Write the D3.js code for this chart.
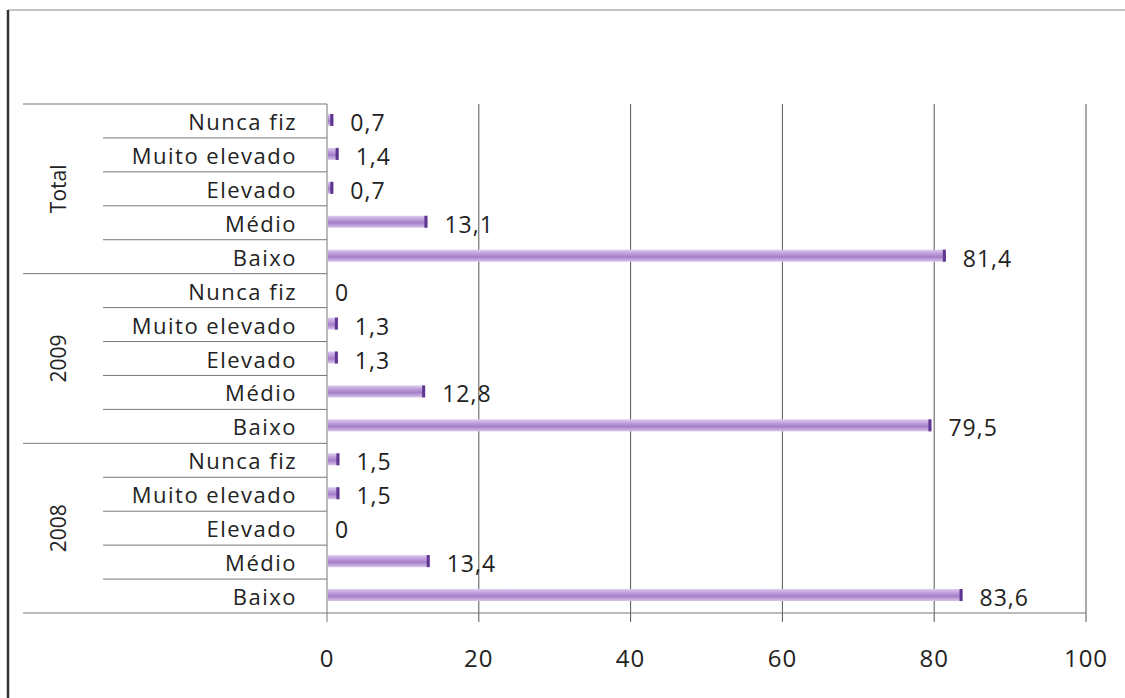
<!DOCTYPE html>
<html>
<head>
<meta charset="utf-8">
<script src="https://cdn.jsdelivr.net/npm/d3@7"></script>
<style>
  html, body { margin: 0; padding: 0; background: #fff; }
  svg { display: block; }
</style>
</head>
<body>
<svg id="chart" width="1125" height="698"></svg>
<script>
// ---- data ----
const groups = ["2008", "2009", "Total"];               // bottom to top
const categories = ["Baixo", "Médio", "Elevado", "Muito elevado", "Nunca fiz"]; // bottom to top within group
const values2008 = [83.6, 13.4, 0, 1.5, 1.5];
const values2009 = [79.5, 12.8, 1.3, 1.3, 0];
const valuesTotal = [81.4, 13.1, 0.7, 1.4, 0.7];
const xTicks = [0, 20, 40, 60, 80, 100];

const seriesByGroup = { "2008": values2008, "2009": values2009, "Total": valuesTotal };

// rows, top to bottom
const rows = [];
groups.slice().reverse().forEach(g => {
  categories.slice().reverse().forEach(c => {
    const i = categories.indexOf(c);
    rows.push({ group: g, cat: c, value: seriesByGroup[g][i], key: g + "|" + c });
  });
});

const svg = d3.select("#chart");
const fontFam = "'Open Sans', Lato, sans-serif";
const textCol = "#222";

const plotTop = 104, plotBottom = 613;
const x = d3.scaleLinear().domain([0, 100]).range([327, 1086]);
const y = d3.scaleBand().domain(rows.map(r => r.key)).range([plotTop, plotBottom]).padding(0);

// gradient
const defs = svg.append("defs");
const grad = defs.append("linearGradient").attr("id", "barGrad")
  .attr("x1", 0).attr("y1", 0).attr("x2", 0).attr("y2", 1);
grad.append("stop").attr("offset", "0%").attr("stop-color", "#dccbee");
grad.append("stop").attr("offset", "30%").attr("stop-color", "#c0a0dd");
grad.append("stop").attr("offset", "60%").attr("stop-color", "#a47ec7");
grad.append("stop").attr("offset", "100%").attr("stop-color", "#d8c6ec");

// outer frame
svg.append("line").attr("x1", 8).attr("x2", 1125).attr("y1", 10).attr("y2", 10)
  .attr("stroke", "#888").attr("stroke-width", 1);
svg.append("line").attr("x1", 8).attr("x2", 8).attr("y1", 10).attr("y2", 698)
  .attr("stroke", "#333").attr("stroke-width", 2.5);

// vertical gridlines
svg.append("g").selectAll("line").data(xTicks.filter(t => t > 0)).join("line")
  .attr("x1", d => x(d)).attr("x2", d => x(d))
  .attr("y1", plotTop).attr("y2", plotBottom + 9)
  .attr("stroke", "#555").attr("stroke-width", 1);

// category axis line
svg.append("line").attr("x1", x(0)).attr("x2", x(0))
  .attr("y1", plotTop).attr("y2", plotBottom + 9)
  .attr("stroke", "#777").attr("stroke-width", 1);

// row separators
const bw = y.bandwidth();
rows.forEach((r, i) => {
  const yy = y(r.key);
  const isGroupTop = (i % 5 === 0);
  svg.append("line")
    .attr("x1", isGroupTop ? 23 : 103).attr("x2", x(0))
    .attr("y1", yy).attr("y2", yy)
    .attr("stroke", "#777").attr("stroke-width", 1);
});
// bottom axis line
svg.append("line").attr("x1", 23).attr("x2", x(100))
  .attr("y1", plotBottom).attr("y2", plotBottom)
  .attr("stroke", "#777").attr("stroke-width", 1);

// bars
const barH = 12;
const bars = svg.append("g");
bars.selectAll("rect.bar").data(rows).join("rect").attr("class", "bar")
  .attr("x", x(0) + 1)
  .attr("y", d => y(d.key) + bw / 2 - barH / 2 - 1)
  .attr("width", d => Math.max(0, x(d.value) - x(0)))
  .attr("height", barH)
  .attr("fill", "url(#barGrad)");
bars.selectAll("rect.cap").data(rows.filter(r => r.value > 0)).join("rect").attr("class", "cap")
  .attr("x", d => x(0) + 1 + Math.max(0, x(d.value) - x(0)) - 3)
  .attr("y", d => y(d.key) + bw / 2 - barH / 2 - 1)
  .attr("width", 3)
  .attr("height", barH)
  .attr("fill", "#5e3590");

// value labels
svg.append("g").selectAll("text").data(rows).join("text")
  .attr("x", d => x(d.value) + (d.value > 0 ? 18 : 8))
  .attr("y", d => y(d.key) + bw / 2 + 10)
  .attr("font-family", fontFam).attr("font-size", 23)
  .attr("letter-spacing", 1)
  .attr("fill", textCol)
  .text(d => String(d.value).replace(".", ","));

// category labels
svg.append("g").selectAll("text").data(rows).join("text")
  .attr("x", 297)
  .attr("y", d => y(d.key) + bw / 2 + 9)
  .attr("text-anchor", "end")
  .attr("font-family", fontFam).attr("font-size", 22)
  .attr("letter-spacing", 1.5)
  .attr("fill", textCol)
  .text(d => d.cat);

// group labels
groups.forEach(g => {
  const keys = rows.filter(r => r.group === g).map(r => r.key);
  const top = y(keys[0]);
  const bot = y(keys[keys.length - 1]) + bw;
  const cy = (top + bot) / 2;
  svg.append("text")
    .attr("transform", `translate(66,${cy}) rotate(-90)`)
    .attr("text-anchor", "middle")
    .attr("font-family", fontFam).attr("font-size", 21)
    .attr("fill", textCol)
    .text(g);
});

// x tick labels
svg.append("g").selectAll("text").data(xTicks).join("text")
  .attr("x", d => x(d))
  .attr("y", 667)
  .attr("text-anchor", "middle")
  .attr("font-family", fontFam).attr("font-size", 24)
  .attr("letter-spacing", 1)
  .attr("fill", textCol)
  .text(d => d);
</script>
</body>
</html>
